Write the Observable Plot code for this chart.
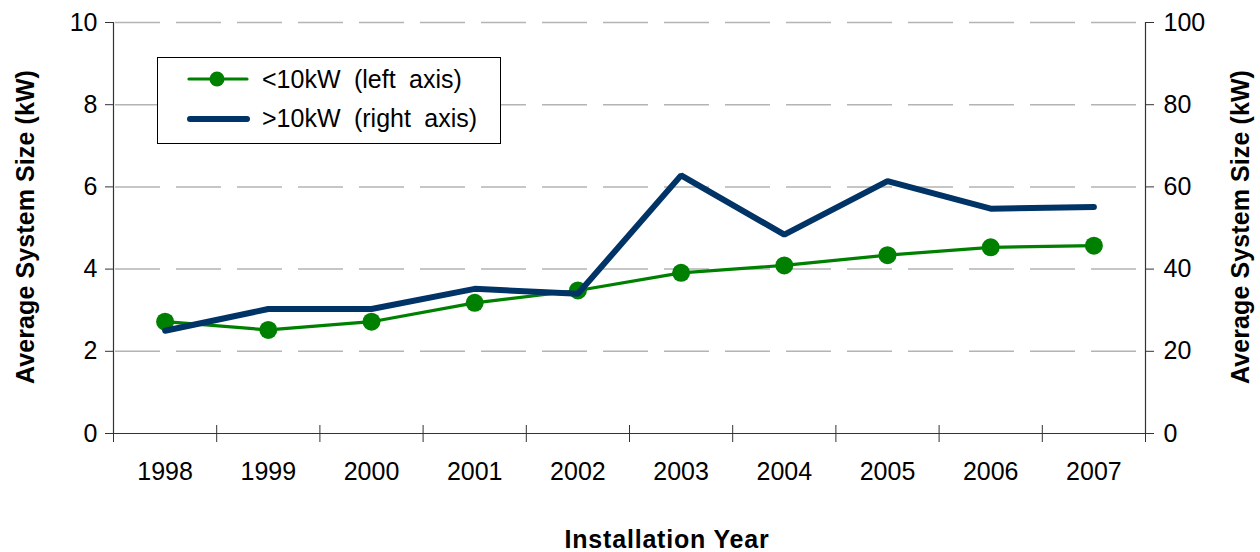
<!DOCTYPE html>
<html>
<head>
<meta charset="utf-8">
<script src="https://cdn.jsdelivr.net/npm/d3@7"></script>
<script src="https://cdn.jsdelivr.net/npm/@observablehq/plot@0.6"></script>
<style>
  html, body { margin: 0; padding: 0; background: #fff; }
  #chart svg { display: block; }
</style>
</head>
<body>
<div id="chart"></div>
<script>
// ---- data ----
const years = [1998, 1999, 2000, 2001, 2002, 2003, 2004, 2005, 2006, 2007];
const smallSystems = [2.72, 2.52, 2.72, 3.18, 3.48, 3.91, 4.09, 4.34, 4.53, 4.57]; // <10kW, left axis
const largeSystems = [25.0, 30.3, 30.3, 35.2, 34.0, 62.8, 48.4, 61.4, 54.7, 55.1]; // >10kW, right axis
const leftTicks = [0, 2, 4, 6, 8, 10];
const rightScale = 10; // right axis = left axis * 10
const seriesNames = ["<10kW (left axis)", ">10kW (right axis)"];
const xTitle = "Installation Year";
const yTitle = "Average System Size (kW)";

const green = "#008000";
const navy = "#003366";
const font = "'Liberation Sans', Arial, Helvetica, sans-serif";

const smallData = years.map((y, i) => ({year: y, v: smallSystems[i]}));
const largeData = years.map((y, i) => ({year: y, v: largeSystems[i]}));
const separators = [years[0] - 0.5, ...years.map(y => y + 0.5)];

const W = 1260, H = 552;
const chart = Plot.plot({
  width: W, height: H,
  marginLeft: 113, marginRight: 115, marginTop: 22, marginBottom: 119,
  x: {type: "linear", domain: [years[0] - 0.5, years[years.length - 1] + 0.5]},
  y: {domain: [0, 10]},
  style: {fontFamily: font, fontSize: "25px", color: "#000", background: "#fff", overflow: "visible"},
  marks: [
    Plot.gridY(leftTicks.filter(d => d > 0), {stroke: "#b4b4b4", strokeOpacity: 1, strokeWidth: 1.5, strokeDasharray: "45,16", strokeDashoffset: -2}),
    Plot.ruleY([0], {stroke: "#333", strokeWidth: 1.2}),
    Plot.ruleX([separators[0], separators[separators.length - 1]], {stroke: "#333", strokeWidth: 1.2}),
    Plot.axisY(leftTicks, {anchor: "left", tickSize: 8, tickPadding: 8, label: null, stroke: "#333", fill: "#000"}),
    Plot.axisY(leftTicks, {anchor: "right", tickSize: 8, tickPadding: 10, tickFormat: d => String(d * rightScale), label: null, stroke: "#333", fill: "#000"}),
    Plot.axisX(separators, {anchor: "bottom", tickSize: 17, dy: -8, tickFormat: () => "", label: null, stroke: "#333"}),
    Plot.axisX(years, {anchor: "bottom", tickSize: 0, tickPadding: 29, tickFormat: d => String(d), label: null, fill: "#000"}),
    Plot.line(smallData, {x: "year", y: "v", stroke: green, strokeWidth: 3.2}),
    Plot.dot(smallData, {x: "year", y: "v", r: 9, fill: green, stroke: "none"}),
    Plot.line(largeData, {x: "year", y: d => d.v / rightScale, stroke: navy, strokeWidth: 6, strokeLinejoin: "miter", strokeLinecap: "round"})
  ]
});

const svg = d3.select(chart);
// axis titles
const title = (sel) => sel.attr("text-anchor", "middle")
  .attr("font-family", font).attr("font-size", 25).attr("font-weight", "bold").attr("fill", "#000");
svg.append("text").call(title)
  .attr("transform", "translate(25,227) rotate(-90)")
  .attr("dominant-baseline", "central")
  .attr("letter-spacing", 0.1)
  .text(yTitle);
svg.append("text").call(title)
  .attr("transform", "translate(1240,227) rotate(-90)")
  .attr("dominant-baseline", "central")
  .attr("letter-spacing", 0.1)
  .text(yTitle);
svg.append("text").call(title)
  .attr("x", 667).attr("y", 548)
  .attr("letter-spacing", 0.8)
  .text(xTitle);

// legend
const lg = svg.append("g").attr("text-anchor", "start");
lg.append("rect").attr("x", 157.5).attr("y", 57.5).attr("width", 343).attr("height", 86)
  .attr("fill", "#fff").attr("stroke", "#000").attr("stroke-width", 1);
lg.append("line").attr("x1", 189).attr("x2", 247).attr("y1", 79).attr("y2", 79)
  .attr("stroke", green).attr("stroke-width", 3.2).attr("stroke-linecap", "round");
lg.append("circle").attr("cx", 217).attr("cy", 79).attr("r", 7.5).attr("fill", green);
lg.append("line").attr("x1", 190).attr("x2", 247).attr("y1", 119).attr("y2", 119)
  .attr("stroke", navy).attr("stroke-width", 6).attr("stroke-linecap", "round");
lg.append("text").attr("x", 262).attr("y", 88)
  .attr("font-family", font).attr("font-size", 25).attr("word-spacing", 6.5).attr("fill", "#000").text(seriesNames[0]);
lg.append("text").attr("x", 262).attr("y", 127)
  .attr("font-family", font).attr("font-size", 25).attr("word-spacing", 6.5).attr("fill", "#000").text(seriesNames[1]);

document.getElementById("chart").appendChild(chart);
</script>
</body>
</html>
